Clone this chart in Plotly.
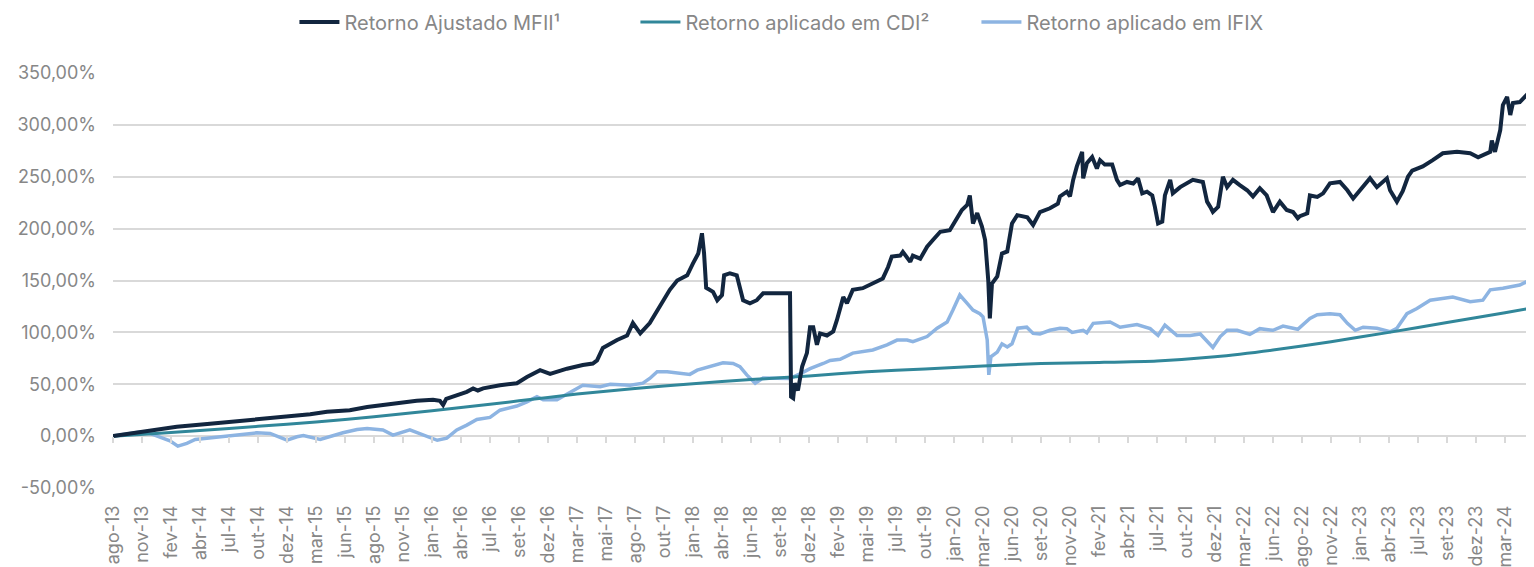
import plotly.graph_objects as go

# ---------------- data (x = trading-session index since ago-13) ----------------
X_TICK_LABELS = ["ago-13", "nov-13", "fev-14", "abr-14", "jul-14", "out-14", "dez-14",
                 "mar-15", "jun-15", "ago-15", "nov-15", "jan-16", "abr-16", "jul-16",
                 "set-16", "dez-16", "mar-17", "mai-17", "ago-17", "out-17", "jan-18",
                 "abr-18", "jun-18", "set-18", "dez-18", "fev-19", "mai-19", "jul-19",
                 "out-19", "jan-20", "mar-20", "jun-20", "set-20", "nov-20", "fev-21",
                 "abr-21", "jul-21", "out-21", "dez-21", "mar-22", "jun-22", "ago-22",
                 "nov-22", "jan-23", "abr-23", "jul-23", "set-23", "dez-23", "mar-24"]
SESSIONS_PER_LABEL = 55

Y_TICKS = [-50, 0, 50, 100, 150, 200, 250, 300, 350]
Y_TICK_TEXT = ["-50,00%", "0,00%", "50,00%", "100,00%", "150,00%", "200,00%",
               "250,00%", "300,00%", "350,00%"]

MFII_SESSION = [0, 57, 121, 184, 247, 311, 341, 374, 406, 436, 449, 482, 512, 544, 576,
                607, 620, 626, 632, 671, 683, 692, 702, 734, 766, 785, 810, 829, 861,
                891, 910, 918, 929, 956, 975, 986, 1000, 1018, 1032, 1043, 1056, 1070,
                1089, 1100, 1110, 1117, 1121, 1125, 1138, 1146, 1155, 1159, 1170, 1183,
                1189, 1195, 1208, 1221, 1233, 1284, 1286, 1290, 1293, 1299, 1307, 1316,
                1322, 1328, 1335, 1341, 1354, 1366, 1373, 1385, 1392, 1403, 1422, 1441,
                1460, 1470, 1477, 1493, 1498, 1512, 1517, 1531, 1544, 1555, 1569, 1587,
                1601, 1610, 1620, 1625, 1631, 1639, 1648, 1654, 1660, 1663, 1667, 1677,
                1686, 1696, 1705, 1715, 1734, 1745, 1758, 1777, 1792, 1796, 1809, 1815,
                1821, 1828, 1838, 1840, 1847, 1857, 1866, 1872, 1881, 1895, 1904, 1910,
                1923, 1935, 1944, 1952, 1961, 1971, 1976, 1982, 1990, 1995, 2005, 2010,
                2024, 2037, 2048, 2067, 2075, 2081, 2086, 2096, 2105, 2113, 2124, 2137,
                2151, 2162, 2175, 2188, 2200, 2213, 2226, 2238, 2247, 2251, 2265, 2270,
                2284, 2295, 2308, 2327, 2341, 2352, 2365, 2384, 2397, 2416, 2422, 2435,
                2446, 2456, 2464, 2484, 2503, 2522, 2549, 2574, 2589, 2612, 2615, 2621,
                2631, 2636, 2644, 2650, 2655, 2668, 2681, 2691]
MFII_VALUE = [0, 4, 9, 12, 15, 17.7, 20, 21, 23.4, 25, 25, 28, 30, 32, 34,
              35, 34, 30, 36, 42.7, 46, 44, 46, 49, 51, 57, 63.6, 60, 65,
              68.5, 70, 73, 85, 92.6, 97, 109, 99, 109, 121.5, 129.5, 141, 150,
              155, 166.5, 176, 195.5, 176, 143, 139, 131, 136, 155, 157, 155,
              144, 131, 128, 131, 137.6, 137.6, 38, 36.6, 51, 44, 67, 80,
              105, 105, 88, 99, 97, 101, 112, 134, 128, 141, 142.6, 147,
              152, 163, 173, 174, 177.6, 168, 174, 171, 182.6, 189, 197, 198.5,
              210, 218, 222.8, 232, 205, 215, 202, 189, 150, 113.5, 147, 154,
              176, 178, 205, 213, 211, 203.5, 216, 219.6, 224, 231, 235.6, 231,
              247, 260, 274, 248.5, 263, 269, 258, 266, 261.7, 261.7, 247, 242,
              245, 243.5, 248.5, 234, 235.6, 232, 221, 205, 206.7, 232, 247, 234,
              240, 243.5, 247, 245, 226, 221, 216, 221, 250, 240, 247, 242,
              237, 231, 239, 232, 216, 226, 218, 216, 210, 212, 214.7, 232,
              230.6, 234, 243.7, 245, 237, 229, 237, 248.5, 240, 248.5, 237, 226,
              236, 250, 256, 260, 266, 272.6, 274, 272.6, 268.7, 274, 285, 274,
              295, 319, 327, 309.5, 321, 322, 328.8, 325.5]

CDI_SESSION = [0, 110, 220, 330, 440, 550, 660, 770, 880, 990, 1100, 1210, 1320,
               1430, 1540, 1650, 1760, 1870, 1980, 2090, 2200, 2310, 2420, 2530,
               2640, 2691]
CDI_VALUE = [0, 3.5, 7.4, 11.5, 16, 21.5, 27.5, 34, 40.5, 46, 50.5, 54.5, 58,
             62, 64.8, 67.5, 70, 71, 72.5, 76.5, 83, 91, 100, 109.5, 119, 123.5]

IFIX_SESSION = [0, 27, 51, 70, 89, 108, 123, 140, 156, 184, 216, 247, 273, 298, 330,
                349, 361, 393, 412, 436, 463, 482, 512, 531, 563, 588, 615, 633, 652,
                671, 690, 715, 734, 766, 785, 804, 816, 842, 867, 891, 924, 943, 981,
                1005, 1018, 1032, 1051, 1070, 1094, 1108, 1132, 1157, 1176, 1189, 1202,
                1218, 1233, 1259, 1284, 1303, 1322, 1347, 1360, 1379, 1403, 1441, 1468,
                1487, 1506, 1517, 1544, 1563, 1582, 1593, 1606, 1620, 1631, 1644, 1650,
                1658, 1661, 1665, 1677, 1686, 1696, 1705, 1716, 1733, 1745, 1758, 1777,
                1796, 1809, 1819, 1840, 1847, 1859, 1891, 1910, 1942, 1967, 1982, 1995,
                2018, 2043, 2062, 2086, 2100, 2113, 2132, 2156, 2175, 2200, 2219, 2247,
                2270, 2284, 2308, 2327, 2341, 2356, 2371, 2397, 2422, 2435, 2454, 2473,
                2498, 2522, 2541, 2574, 2598, 2612, 2636, 2668, 2681, 2691]
IFIX_VALUE = [0, 2, 4, 2.6, -0.6, -4.5, -9.6, -7, -3.2, -1.6, 0, 1.6, 3.2, 2.6, -3.9,
              -0.6, 0.6, -3.2, 0, 3.2, 6.4, 7.4, 6, 1, 6, 1, -4, -2, 6,
              10.6, 16, 18, 25, 29, 33, 38, 35, 35, 42, 49, 47.6, 50, 49,
              51, 55.6, 62, 62, 61, 59.5, 63.6, 67, 70.7, 70, 67, 59,
              51, 56, 56, 55.6, 60, 65, 70, 73, 74, 80, 83, 88,
              92.6, 92.6, 91, 96, 104, 110, 121.5, 136, 128, 121.5, 118, 115,
              92.6, 59, 76.5, 81, 89, 86, 89, 104, 105, 99, 98.5, 102,
              104, 103.6, 100, 102, 99.6, 108.7, 110, 105, 107.6, 103.6, 97, 107,
              97, 97, 98.5, 85.5, 96, 102, 102, 98, 103.6, 102, 106, 103,
              113.5, 117, 118, 117, 108.7, 102, 105, 104, 100.6, 104, 118, 123,
              131, 132.6, 134, 129.5, 131, 141, 142.6, 145.6, 148.8, 145.6]

SERIES_NAMES = ["Retorno Ajustado MFII¹", "Retorno aplicado em CDI²", "Retorno aplicado em IFIX"]

# ---------------- styles ----------------
COL_MFII = "#12263f"
COL_CDI = "#31879a"
COL_IFIX = "#8db4e2"
GRID = "#d9d9d9"
TXT = "#878787"
FONT = "Inter, Roboto, sans-serif"

x_tickvals = [i * SESSIONS_PER_LABEL for i in range(len(X_TICK_LABELS))]
x_range = [0, 2695]

fig = go.Figure()
# drawn bottom-to-top: IFIX, CDI, MFII
fig.add_trace(go.Scatter(x=IFIX_SESSION, y=IFIX_VALUE, name=SERIES_NAMES[2], mode="lines",
                         line=dict(color=COL_IFIX, width=3.5), legendrank=3))
fig.add_trace(go.Scatter(x=CDI_SESSION, y=CDI_VALUE, name=SERIES_NAMES[1], mode="lines",
                         line=dict(color=COL_CDI, width=3, shape="spline", smoothing=0.6),
                         legendrank=2))
fig.add_trace(go.Scatter(x=MFII_SESSION, y=MFII_VALUE, name=SERIES_NAMES[0], mode="lines",
                         line=dict(color=COL_MFII, width=4), legendrank=1))
# empty helper trace so the tick-mark axis at 0% is rendered
fig.add_trace(go.Scatter(x=[], y=[], xaxis="x2", showlegend=False, hoverinfo="skip"))

# the page body has an 8px default margin, so the figure is sized to fill the rest
fig.update_layout(
    width=1526, height=559,
    paper_bgcolor="white", plot_bgcolor="white",
    margin=dict(l=105, r=0, t=65, b=79, autoexpand=False),
    font=dict(family=FONT, size=18, color=TXT),
    showlegend=True,
    legend=dict(orientation="h", xref="container", yref="container",
                x=0.1877, xanchor="left", y=0.975, yanchor="middle",
                font=dict(size=20, color=TXT), entrywidth=286, entrywidthmode="pixels",
                itemwidth=40, bgcolor="rgba(0,0,0,0)"),
    xaxis=dict(range=x_range, tickmode="array", tickvals=x_tickvals,
               ticktext=X_TICK_LABELS, tickangle=-90, showgrid=False, automargin=False,
               zeroline=False, showline=False, ticks="", ticklabelstandoff=13,
               tickfont=dict(size=18, color=TXT)),
    xaxis2=dict(range=x_range, overlaying="x", anchor="free", position=0.125,
                side="bottom", tickmode="array", tickvals=x_tickvals, automargin=False,
                showticklabels=False, ticks="outside", ticklen=6, tickwidth=1.5,
                tickcolor=GRID, showgrid=False, zeroline=False, showline=False),
    yaxis=dict(range=[-50, 350], tickmode="array", tickvals=Y_TICKS, automargin=False,
               ticktext=Y_TICK_TEXT, showgrid=True, gridcolor=GRID, gridwidth=1.5,
               zeroline=False, showline=False, ticks="", ticklabelstandoff=16,
               tickfont=dict(size=18, color=TXT)),
)

fig.write_html("out.html")
